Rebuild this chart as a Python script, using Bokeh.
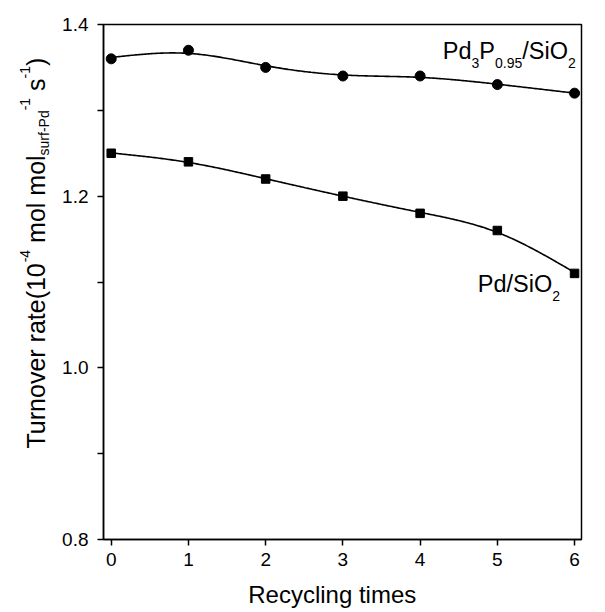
import numpy as np
from bokeh.plotting import figure
from bokeh.layouts import row, column
from bokeh.models import Label, FixedTicker, PrintfTickFormatter, Range1d
from bokeh.embed import file_html
from bokeh.resources import INLINE

# ---------------- data ----------------
cycles = [0, 1, 2, 3, 4, 5, 6]
pd3p_rate = [1.36, 1.37, 1.35, 1.34, 1.34, 1.33, 1.32]
pd_rate = [1.25, 1.24, 1.22, 1.20, 1.18, 1.16, 1.11]
x_ticks = [0, 1, 2, 3, 4, 5, 6]
y_ticks = [0.8, 1.0, 1.2, 1.4]
y_minor = [0.9, 1.1, 1.3]
x_title = "Recycling times"

# ---------------- layout ----------------
FONT = "Liberation Sans"
TOTAL_W, TOTAL_H = 597, 608
LEFT_W = 52                       # strip holding the rotated y title
MAIN_W, MAIN_H = TOTAL_W - LEFT_W, 578
BOT_H = TOTAL_H - MAIN_H          # strip holding the x title
BL, BR, BT, BB = 103 - LEFT_W, 16, 24, 39
FW, FH = MAIN_W - BL - BR, MAIN_H - BT - BB
X0, X1 = -0.1, 6.09
Y0, Y1 = 0.8, 1.4
DX = (X1 - X0) / FW   # data per px
DY = (Y1 - Y0) / FH
BASE_FIX = 0.38       # label baseline correction, as a fraction of font size

ADV = {' ': 278, '(': 333, ')': 333, '-': 333, '.': 278, '/': 278,
       'T': 611, 'P': 667, 'S': 667, 'O': 778, 'R': 722,
       'a': 556, 'c': 500, 'd': 556, 'e': 556, 'f': 278, 'g': 556, 'i': 222,
       'l': 222, 'm': 833, 'n': 556, 'o': 556, 'r': 333, 's': 500, 't': 278,
       'u': 556, 'v': 500, 'y': 500}


def tw(s, size):
    return sum(ADV.get(c, 556) for c in s) / 1000.0 * size


def smooth_spline(x, y, lam, n=300):
    x = np.asarray(x, float)
    y = np.asarray(y, float)
    m = len(x)
    h = np.diff(x)
    Q = np.zeros((m, m - 2))
    R = np.zeros((m - 2, m - 2))
    for j in range(1, m - 1):
        Q[j - 1, j - 1] = 1 / h[j - 1]
        Q[j, j - 1] = -1 / h[j - 1] - 1 / h[j]
        Q[j + 1, j - 1] = 1 / h[j]
        R[j - 1, j - 1] = (h[j - 1] + h[j]) / 3
        if j < m - 2:
            R[j - 1, j] = R[j, j - 1] = h[j] / 6
    A = np.eye(m) + lam * Q @ np.linalg.solve(R, Q.T)
    g = np.linalg.solve(A, y)
    gam = np.zeros(m)
    gam[1:-1] = np.linalg.solve(R, Q.T @ g)
    xs = np.linspace(x[0], x[-1], n)
    idx = np.clip(np.searchsorted(x, xs, side='right') - 1, 0, m - 2)
    xl, xr = x[idx], x[idx + 1]
    hh = xr - xl
    a = (xr - xs) / hh
    b = (xs - xl) / hh
    ys = a * g[idx] + b * g[idx + 1] + ((a ** 3 - a) * gam[idx] + (b ** 3 - b) * gam[idx + 1]) * hh ** 2 / 6
    return xs, ys


def strip(w, h):
    f = figure(width=w, height=h, output_backend="svg", toolbar_location=None, title=None,
               x_range=Range1d(0, w), y_range=Range1d(0, h),
               x_axis_type=None, y_axis_type=None,
               min_border_left=0, min_border_right=0, min_border_top=0, min_border_bottom=0)
    f.grid.visible = False
    f.outline_line_color = None
    f.background_fill_color = "white"
    f.border_fill_color = "white"
    return f


# ---------------- main plot ----------------
p = figure(width=MAIN_W, height=MAIN_H, output_backend="svg", toolbar_location=None,
           x_range=Range1d(X0, X1), y_range=Range1d(Y0, Y1),
           min_border_left=BL, min_border_right=BR, min_border_top=BT, min_border_bottom=BB)
p.grid.visible = False
p.outline_line_color = "black"
p.outline_line_width = 1.5
p.background_fill_color = "white"
p.border_fill_color = "white"

xs, ys = smooth_spline(cycles, pd3p_rate, 0.05)
p.line(xs, ys, line_color="black", line_width=1.6)
xs, ys = smooth_spline(cycles, pd_rate, 0.03)
p.line(xs, ys, line_color="black", line_width=1.6)
p.scatter(cycles, pd3p_rate, marker="circle", size=10, fill_color="black", line_color="black")
p.scatter(cycles, pd_rate, marker="square", size=8.5, fill_color="black", line_color="black")

for ax in (p.xaxis[0], p.yaxis[0]):
    ax.axis_line_width = 1.5
    ax.major_tick_line_width = 1.5
    ax.minor_tick_line_width = 1.5
    ax.major_tick_in = 0
    ax.major_tick_out = 6
    ax.minor_tick_in = 0
    ax.minor_tick_out = 6
    ax.major_label_text_font = FONT
    ax.major_label_text_font_size = "19px"
    ax.major_label_text_color = "black"

p.xaxis.ticker = FixedTicker(ticks=x_ticks)
p.xaxis.formatter = PrintfTickFormatter(format="%d")
p.xaxis.major_label_standoff = 7

p.yaxis.ticker = FixedTicker(ticks=y_ticks, minor_ticks=y_minor)
p.yaxis.formatter = PrintfTickFormatter(format="%.1f")
p.yaxis.major_label_standoff = 9


def add_rich_h(x, y, pieces, main=23.5, small=14, sup=12, sub=9):
    # horizontal rich text; (x, y) data anchor at baseline start
    off = 0.0
    for txt, kind in pieces:
        size = main if kind == "main" else small
        shift = 0 if kind == "main" else (sup if kind == "sup" else -sub)
        shift += BASE_FIX * size
        s = txt.lstrip(" ")
        lead = tw(txt[:len(txt) - len(s)], size)
        p.add_layout(Label(x=x + (off + lead) * DX, y=y + shift * DY, text=s,
                           text_font=FONT, text_font_size=f"{size}px", text_color="black",
                           text_align="left", text_baseline="alphabetic"))
        off += tw(txt, size)


add_rich_h(4.294, 1.3592, [("Pd", "main"), ("3", "sub"), ("P", "main"), ("0.95", "sub"),
                           ("/SiO", "main"), ("2", "sub")])
add_rich_h(4.747, 1.0878, [("Pd/SiO", "main"), ("2", "sub")])

# ---------------- y title (left strip) ----------------
left = strip(LEFT_W, TOTAL_H)


def add_rich_v(fig, bx, by, pieces, main=25, small=14, sup=15, sub=4):
    # rotated (90deg ccw) rich text; bx = baseline x (px), by = start y (px from top)
    off = 0.0
    for txt, kind in pieces:
        size = main if kind == "main" else small
        shift = 0 if kind == "main" else (sup if kind == "sup" else -sub)
        shift += BASE_FIX * size
        s = txt.lstrip(" ")
        lead = tw(txt[:len(txt) - len(s)], size)
        fig.add_layout(Label(x=bx - shift, y=TOTAL_H - (by - off - lead), text=s, angle=np.pi / 2,
                             text_font=FONT, text_font_size=f"{size}px", text_color="black",
                             text_align="left", text_baseline="alphabetic"))
        off += tw(txt, size)


add_rich_v(left, 45, 448, [("Turnover rate(10", "main"), ("-4", "sup"), (" mol mol", "main"),
                           ("surf-Pd", "sub"), ("-1", "sup"), (" s", "main"), ("-1", "sup"),
                           (")", "main")])

# ---------------- x title (bottom strip) ----------------
bottom = strip(MAIN_W, BOT_H)
bottom.add_layout(Label(x=217 - LEFT_W, y=5 + BASE_FIX * 24, text=x_title, text_font=FONT,
                        text_font_size="24px", text_color="black",
                        text_align="left", text_baseline="alphabetic"))

layout = row(left, column(p, bottom, spacing=0), spacing=0)
open("out.html", "w").write(file_html(layout, INLINE))
